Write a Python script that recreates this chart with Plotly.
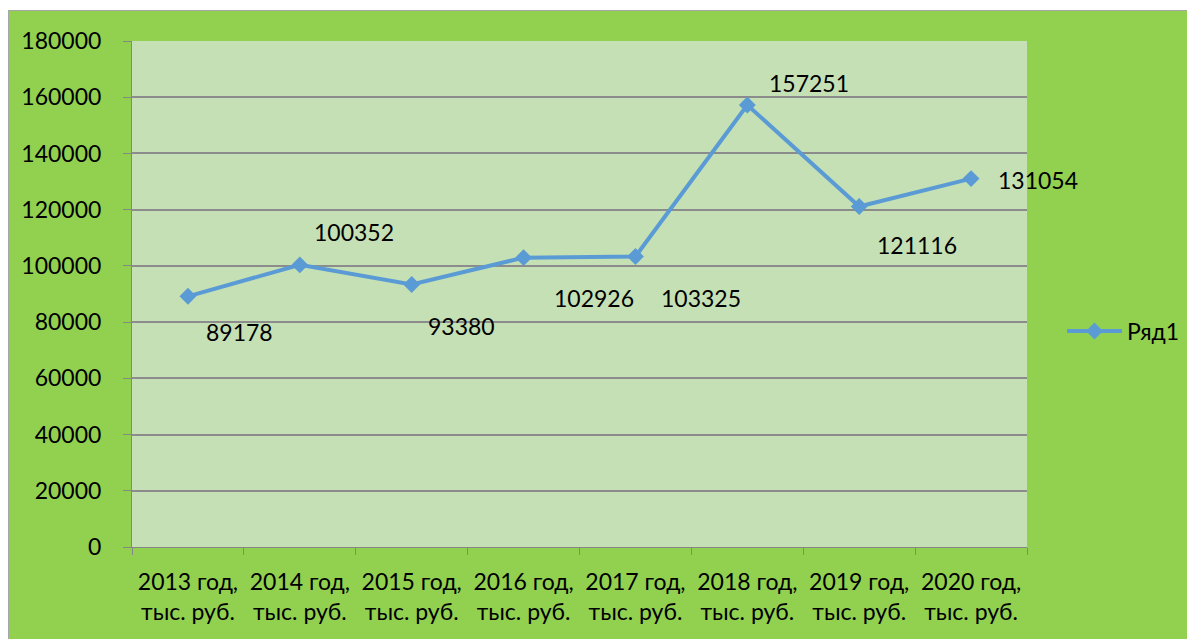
import plotly.graph_objects as go

categories = ["2013 год,<br>тыс. руб.", "2014 год,<br>тыс. руб.", "2015 год,<br>тыс. руб.",
              "2016 год,<br>тыс. руб.", "2017 год,<br>тыс. руб.", "2018 год,<br>тыс. руб.",
              "2019 год,<br>тыс. руб.", "2020 год,<br>тыс. руб."]
values = [89178, 100352, 93380, 102926, 103325, 157251, 121116, 131054]
series_name = "Ряд1"
y_ticks = [0, 20000, 40000, 60000, 80000, 100000, 120000, 140000, 160000, 180000]

# pixel offsets of data labels (manually positioned in the original)
label_dx = [52, 54, 50, 70, 66, 62, 58, 67]
label_dy = [-36, 33, -41, -40, -41, 22, -38, -1]

W, H = 1195, 639
OFF = 8  # page body margin
L, R, T, B = 132 - OFF, 1027 - OFF, 41 - OFF, 547 - OFF
font = "Lato"
fs = 23

fig = go.Figure()
fig.add_trace(go.Scatter(
    x=categories, y=values, name=series_name, mode="lines+markers",
    line=dict(color="#5B9BD5", width=4),
    marker=dict(symbol="diamond", size=13, color="#5B9BD5"),
))

for c, v, dx, dy in zip(categories, values, label_dx, label_dy):
    fig.add_annotation(x=c, y=v, text=str(v), showarrow=False, xshift=dx, yshift=dy,
                       font=dict(family=font, size=fs, color="black"))

pw = R - L
ph = B - T
def px(x):
    return (x - OFF - L) / pw
def py(y):
    return (B - (y - OFF)) / ph

# white strip at the top and grey border of the chart area
fig.add_shape(type="rect", xref="paper", yref="paper", layer="below",
              x0=px(0), x1=px(1300), y0=py(10), y1=py(0),
              fillcolor="white", line=dict(width=0))
fig.add_shape(type="rect", xref="paper", yref="paper", layer="below",
              x0=px(8.5), x1=px(1300), y0=py(10.5), y1=py(700),
              fillcolor="rgba(0,0,0,0)", line=dict(color="#A6A6A6", width=1))

fig.update_layout(
    width=W, height=H,
    margin=dict(l=L, r=W - R, t=T, b=H - B, pad=0),
    paper_bgcolor="#92D050", plot_bgcolor="#C5E0B4",
    font=dict(family=font, size=fs, color="black"),
    showlegend=True,
    legend=dict(x=px(1062), y=py(331), xanchor="left", yanchor="middle",
                bgcolor="rgba(0,0,0,0)", font=dict(size=fs), itemwidth=55),
    xaxis=dict(type="category", tickson="boundaries", ticks="outside", ticklen=7,
               tickcolor="#868686", showline=True, linecolor="#868686", linewidth=1,
               showgrid=False, range=[-0.5, 7.5], fixedrange=True, ticklabelstandoff=14),
    yaxis=dict(range=[0, 180000], tickvals=y_ticks, ticktext=[str(t) for t in y_ticks],
               ticks="outside", ticklen=8, tickcolor="#868686",
               showline=True, linecolor="#868686", linewidth=1,
               showgrid=True, gridcolor="#8C8C8C", gridwidth=1.5, zeroline=False,
               fixedrange=True, ticklabelstandoff=17),
)

fig.write_html("out.html")
